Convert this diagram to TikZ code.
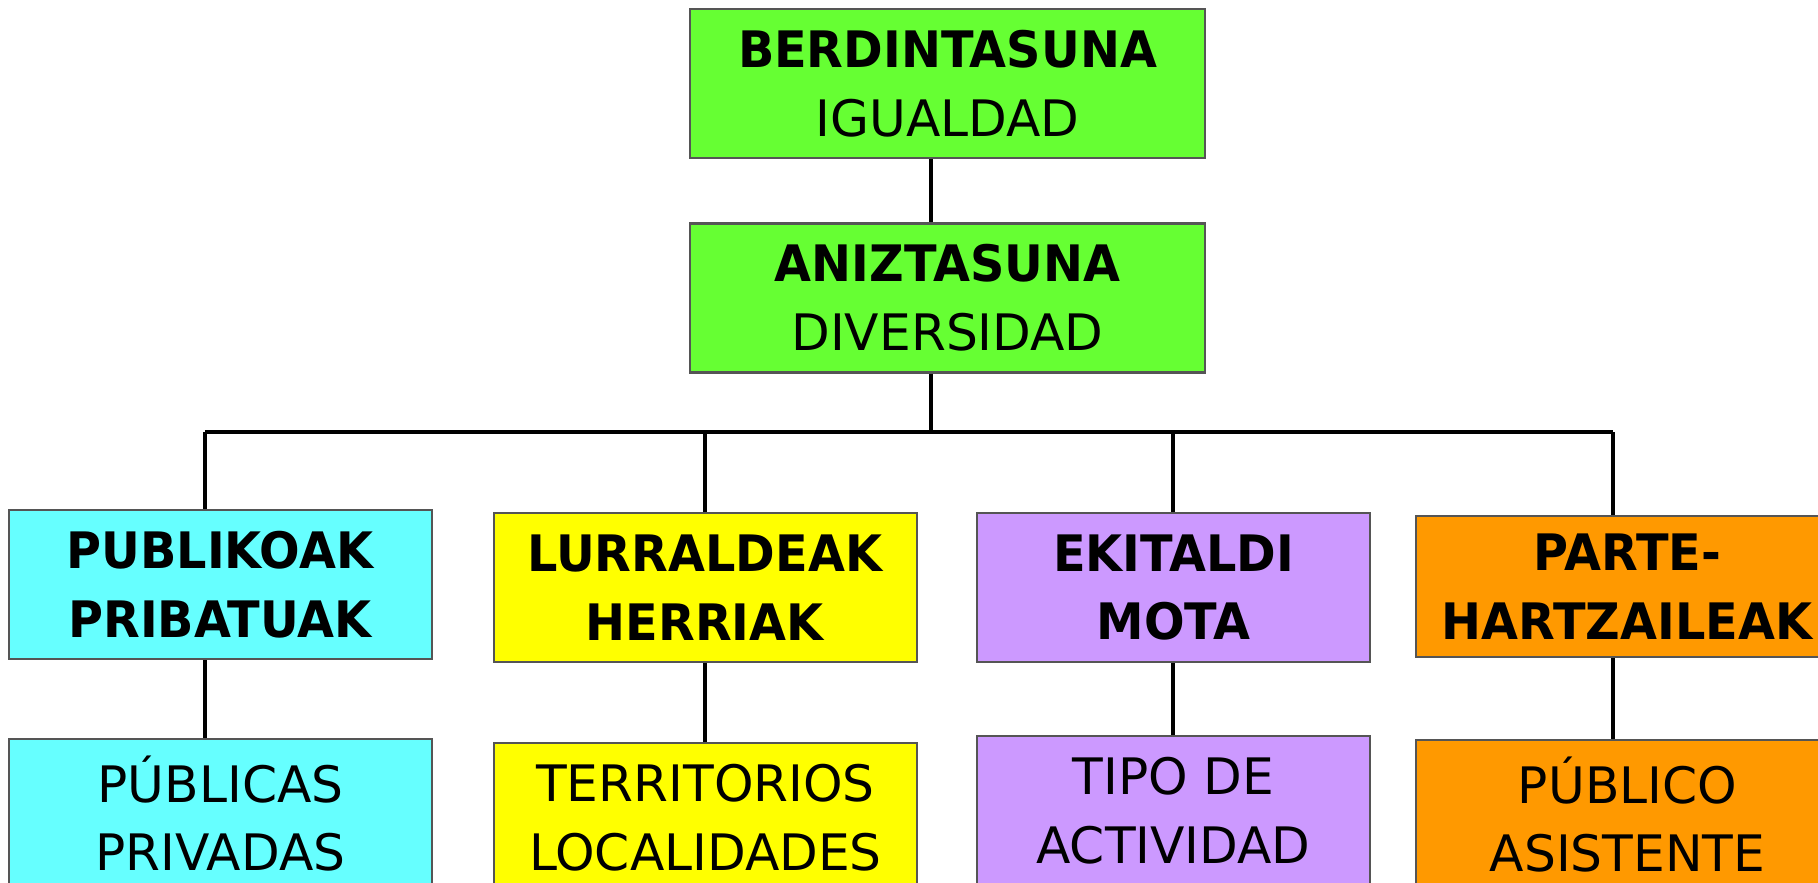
\documentclass[tikz,border=0pt]{standalone}
\usepackage{fontspec}
\setmainfont{DejaVu Sans}[BoldFeatures={FakeStretch=0.95}]
\definecolor{grn}{HTML}{66FF33}
\definecolor{cyn}{HTML}{66FFFF}
\definecolor{ylw}{HTML}{FFFF00}
\definecolor{vlt}{HTML}{CC99FF}
\definecolor{orng}{HTML}{FF9900}
\definecolor{boxgrey}{HTML}{555555}
\tikzset{
  box/.style={draw=boxgrey, line width=0.6pt, minimum height=1.49cm, inner sep=0pt,
    align=center, font=\fontsize{14.3}{19.6}\selectfont},
  link/.style={line width=0.9pt}
}
\begin{document}
\begin{tikzpicture}
\useasboundingbox (0,0) rectangle (18.18,8.82);
\clip (0,0) rectangle (18.18,8.82);

% Top boxes
\node[box, fill=grn, minimum width=5.15cm] (igual) at (9.475,7.985) {\textbf{BERDINTASUNA}\\IGUALDAD};
\node[box, fill=grn, minimum width=5.15cm] (divers) at (9.475,5.84) {\textbf{ANIZTASUNA}\\DIVERSIDAD};

% Bus points
\coordinate (spine) at (9.31,4.50);
\coordinate (bus1) at (2.05,4.50);
\coordinate (bus2) at (7.05,4.50);
\coordinate (bus3) at (11.73,4.50);
\coordinate (bus4) at (16.13,4.50);

% Basque headings
\node[box, fill=cyn, minimum width=4.23cm, anchor=north] (publ) at (2.205,3.73) {\textbf{PUBLIKOAK}\\\textbf{PRIBATUAK}};
\node[box, fill=ylw, minimum width=4.23cm, anchor=north] (lurr) at (7.055,3.70) {\textbf{LURRALDEAK}\\\textbf{HERRIAK}};
\node[box, fill=vlt, minimum width=3.93cm, anchor=north] (ekit) at (11.735,3.70) {\textbf{EKITALDI}\\\textbf{MOTA}};
\node[box, fill=orng, minimum width=4.23cm, minimum height=1.41cm, anchor=north] (part) at (16.275,3.67) {\textbf{PARTE-}\\\textbf{HARTZAILEAK}};

% Spanish boxes
\node[box, fill=cyn, minimum width=4.23cm, anchor=north] (publes) at (2.205,1.44) {PÚBLICAS\\PRIVADAS};
\node[box, fill=ylw, minimum width=4.23cm, anchor=north] (lurres) at (7.055,1.40) {TERRITORIOS\\LOCALIDADES};
\node[box, fill=vlt, minimum width=3.93cm, anchor=north] (ekites) at (11.735,1.47) {TIPO DE\\ACTIVIDAD};
\node[box, fill=orng, minimum width=4.23cm, anchor=north] (partes) at (16.275,1.43) {PÚBLICO\\ASISTENTE};

% Connectors
\draw[link] (igual.south -| spine) -- (divers.north -| spine);
\draw[link] (divers.south -| spine) -- (spine);
\draw[link] (bus1) -- (bus4);
\foreach \b/\n/\m in {bus1/publ/publes, bus2/lurr/lurres, bus3/ekit/ekites, bus4/part/partes} {
  \draw[link] (\b) -- (\n.north -| \b);
  \draw[link] (\n.south -| \b) -- (\m.north -| \b);
}
\end{tikzpicture}
\end{document}
